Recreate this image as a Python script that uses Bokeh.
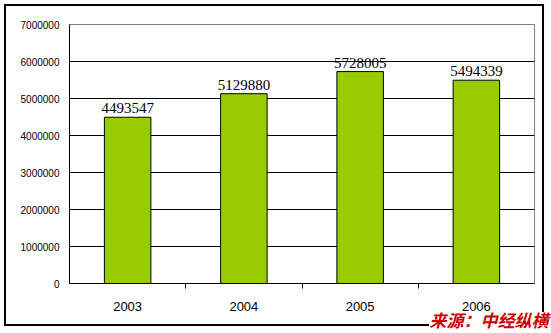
from bokeh.plotting import figure
from bokeh.models import (ColumnDataSource, FixedTicker, Range1d, Title, LabelSet)
from bokeh.embed import file_html
from bokeh.resources import INLINE

years = ["2003", "2004", "2005", "2006"]
values = [4493547, 5129880, 5728005, 5494339]
y_ticks = [0, 1000000, 2000000, 3000000, 4000000, 5000000, 6000000, 7000000]
source_text = "来源：中经纵横"

xs = [i + 0.5 for i in range(len(years))]
src = ColumnDataSource(dict(x=xs, top=values, lab=[str(v) for v in values]))

p = figure(frame_width=465, frame_height=259, output_backend="svg", toolbar_location=None,
           x_range=Range1d(0, len(years)), y_range=Range1d(0, 7000000),
           min_border_left=69, min_border_right=17, min_border_top=24, min_border_bottom=50)
p.background_fill_color = "white"
p.border_fill_color = None
p.outline_line_color = "#808080"
p.outline_line_width = 1
p.styles = {
    "background-color": "white",
    "background-image": "linear-gradient(#000,#000),linear-gradient(#000,#000),"
                        "linear-gradient(#000,#000),linear-gradient(#000,#000)",
    "background-size": "540px 2px, 425px 2px, 2px 322px, 2px 308px",
    "background-position": "4px 4px, 4px 324px, 4px 4px, 542px 4px",
    "background-repeat": "no-repeat",
}

p.vbar(x="x", top="top", width=0.4, source=src, fill_color="#99cc00",
       line_color="black", line_width=1)

p.add_layout(LabelSet(x="x", y="top", text="lab", source=src, text_align="center",
                      text_baseline="bottom", y_offset=4, text_font="Liberation Serif",
                      text_font_size="15px", text_color="black"))

p.yaxis.ticker = FixedTicker(ticks=y_ticks)
p.yaxis.major_label_text_font = "Liberation Sans"
p.yaxis.major_label_text_font_size = "10px"
p.yaxis.major_label_text_color = "black"
p.yaxis.major_tick_out = 0
p.yaxis.major_tick_in = 0
p.yaxis.minor_tick_out = 0
p.yaxis.minor_tick_in = 0
p.yaxis.major_label_standoff = 10
p.yaxis.axis_line_color = "black"
p.yaxis.formatter.use_scientific = False

p.xaxis.ticker = FixedTicker(ticks=xs, minor_ticks=[1, 2, 3])
p.xaxis.major_label_overrides = {x: y for x, y in zip(xs, years)}
p.xaxis.major_tick_out = 0
p.xaxis.major_tick_in = 0
p.xaxis.minor_tick_out = 5
p.xaxis.minor_tick_in = 0
p.xaxis.major_label_standoff = 13
p.xaxis.major_label_text_font = "Liberation Sans"
p.xaxis.major_label_text_font_size = "13px"
p.xaxis.major_label_text_color = "black"
p.xaxis.axis_line_color = "black"

p.xgrid.grid_line_color = None
p.ygrid.ticker = FixedTicker(ticks=y_ticks[1:-1])
p.ygrid.grid_line_color = "black"
p.ygrid.grid_line_width = 1

p.add_layout(Title(text=source_text, align="right", offset=-14, standoff=-13,
                   vertical_align="top",
                   text_font="Noto Sans CJK SC", text_font_style="bold italic",
                   text_font_size="17px", text_color="#cc0000",
                   background_fill_color=None), "below")

open("out.html", "w").write(file_html(p, INLINE))
